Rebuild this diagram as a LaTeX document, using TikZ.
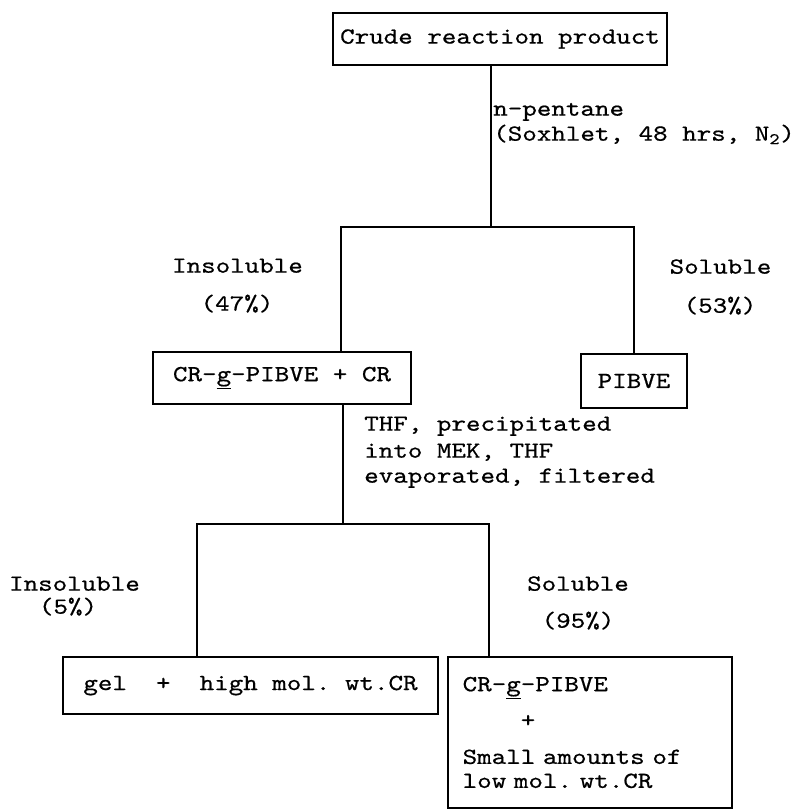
\documentclass[tikz,border=0pt]{standalone}
\usepackage{fontspec}
\newfontfamily\twfont{lmmono10-regular.otf}[FakeStretch=1.2, FakeBold=0.6, WordSpace={1,0,0}]
\newcommand\dgfont{\twfont\frenchspacing\fontsize{17.3pt}{18pt}\selectfont}
\begin{document}
\begin{tikzpicture}[x=0.75pt,y=-0.75pt,
  box/.style={draw, line width=1.4pt, inner sep=0pt, font=\dgfont},
  conn/.style={line width=1.9pt},
  lbl/.style={inner sep=0pt, font=\dgfont, text height=12pt, text depth=3.5pt},
  note/.style={lbl, anchor=west},
]
\useasboundingbox (0,0) rectangle (798,812);
% boxes
\node[box, minimum width=250.5pt, minimum height=39pt] (top) at (500,39) {Crude reaction product};
\node[box, minimum width=193.5pt, minimum height=39pt] (cr) at (282,378) {CR-\underline{g}-PIBVE + CR};
\node[box, minimum width=79.5pt, minimum height=40.5pt] (pib) at (634,381) {PIBVE};
\node[box, minimum width=281.25pt, minimum height=42.75pt] (gel) at (250.5,685.5) {gel\ \ +\ \ high mol.\ wt.CR};
\node[box, minimum width=213pt, minimum height=113.25pt, inner xsep=11pt, text width=191pt, align=left] (graft) at (590,732.5)
  {CR-\underline{g}-PIBVE\\[9pt]\phantom{xxxx}+\\[9.5pt]Small\ amounts\ of\\low\ mol.\ wt.CR};
% bracket coordinates
\coordinate (j1) at (491,227);
\coordinate (j1l) at (341,227);
\coordinate (j1r) at (634,227);
\coordinate (j2) at (343,524);
\coordinate (j2l) at (197,524);
\coordinate (j2r) at (489,524);
% connectors
\draw[conn] (top.south -| j1) -- (j1);
\draw[conn] (cr.north -| j1l) -- (j1l) -- (j1r) -- (pib.north -| j1r);
\draw[conn] (cr.south -| j2) -- (j2);
\draw[conn] (gel.north -| j2l) -- (j2l) -- (j2r) -- (graft.north -| j2r);
% labels
\node[note] (np) at (493,110) {n-pentane};
\node[note] (sox) at (493,135) {(Soxhlet, 48 hrs, N\textsubscript{2})};
\node[lbl] (ins1) at (237.5,267) {Insoluble};
\node[lbl] (p47) at (237,305) {(47\%)};
\node[lbl] (sol1) at (720.5,268) {Soluble};
\node[lbl] (p53) at (720,307) {(53\%)};
\node[note] (thf1) at (364,425) {THF, precipitated};
\node[note] (thf2) at (364,452) {into MEK, THF};
\node[note] (thf3) at (364,477) {evaporated, filtered};
\node[lbl] (ins2) at (74.5,585) {Insoluble};
\node[lbl] (p5) at (68,608) {(5\%)};
\node[lbl] (sol2) at (578,585) {Soluble};
\node[lbl] (p95) at (578,622) {(95\%)};
\end{tikzpicture}
\end{document}
